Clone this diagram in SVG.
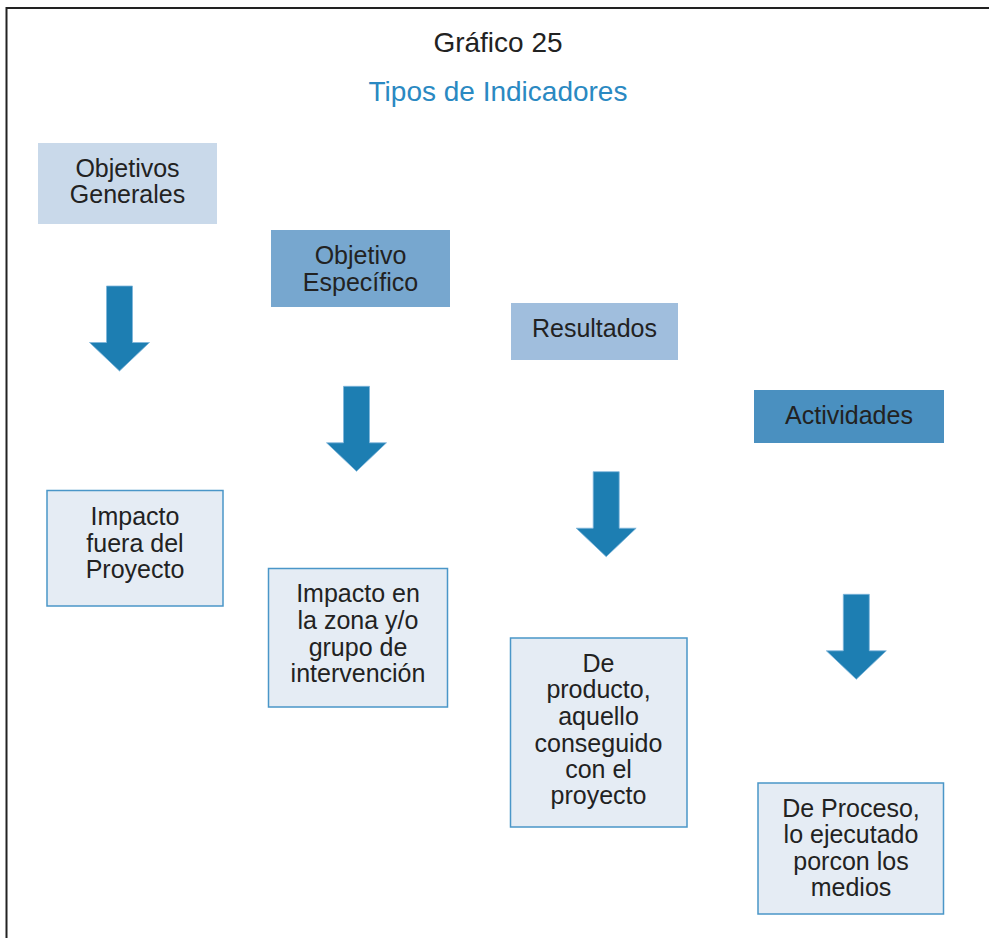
<svg xmlns="http://www.w3.org/2000/svg" xmlns:xlink="http://www.w3.org/1999/xlink" width="989" height="938" viewBox="0 0 989 938">
<style>
.t{font-family:"Liberation Sans",Arial,sans-serif;font-size:25px;fill:#222;text-anchor:middle}
.res{fill:#e5ecf4;stroke:#4a96c8;stroke-width:1.5}
.arr{fill:#1d7eb2;stroke:#7db5da;stroke-width:0.8}
</style>
<defs>
<path id="arrow" class="arr" d="M-13,0 H13 V56.5 H30 L0,85 L-30,56.5 H-13 Z"/>
</defs>
<rect width="989" height="938" fill="#fff"/>
<path d="M6.5,938 V8 H989" fill="none" stroke="#222" stroke-width="2"/>
<g id="title">
<text x="498" y="52" style="font-family:'Liberation Sans',Arial,sans-serif;font-size:28px;fill:#222;text-anchor:middle">Gráfico 25</text>
<text x="498" y="101" style="font-family:'Liberation Sans',Arial,sans-serif;font-size:28px;fill:#2a89c2;text-anchor:middle">Tipos de Indicadores</text>
</g>
<g id="n-objetivos-generales">
<rect x="38" y="143" width="179" height="81" fill="#c9d9ea"/>
<text class="t" x="127.5" y="177">Objetivos</text>
<text class="t" x="127.5" y="203">Generales</text>
</g>
<g id="n-objetivo-especifico">
<rect x="271" y="230" width="179" height="77" fill="#77a7cf"/>
<text class="t" x="360.5" y="264">Objetivo</text>
<text class="t" x="360.5" y="291">Específico</text>
</g>
<g id="n-resultados">
<rect x="511" y="303" width="167" height="57" fill="#a0bedd"/>
<text class="t" x="594.5" y="337">Resultados</text>
</g>
<g id="n-actividades">
<rect x="754" y="390" width="190" height="53" fill="#4a90c0"/>
<text class="t" x="849" y="424">Actividades</text>
</g>
<g id="n-impacto-fuera">
<rect class="res" x="47" y="490.5" width="176" height="115.5"/>
<text class="t" x="135" y="525">Impacto</text>
<text class="t" x="135" y="551.7">fuera del</text>
<text class="t" x="135" y="578.3">Proyecto</text>
</g>
<g id="n-impacto-zona">
<rect class="res" x="268.5" y="568.5" width="179" height="138.5"/>
<text class="t" x="358" y="602.3">Impacto en</text>
<text class="t" x="358" y="628.8">la zona y/o</text>
<text class="t" x="358" y="655.5">grupo de</text>
<text class="t" x="358" y="682">intervención</text>
</g>
<g id="n-producto">
<rect class="res" x="510.5" y="638" width="176.5" height="189"/>
<text class="t" x="598.5" y="671.7">De</text>
<text class="t" x="598.5" y="698.3">producto,</text>
<text class="t" x="598.5" y="725.2">aquello</text>
<text class="t" x="598.5" y="751.7">conseguido</text>
<text class="t" x="598.5" y="778">con el</text>
<text class="t" x="598.5" y="804.3">proyecto</text>
</g>
<g id="n-proceso">
<rect class="res" x="758" y="783" width="185.5" height="131"/>
<text class="t" x="851" y="816.7">De Proceso,</text>
<text class="t" x="851" y="843.3">lo ejecutado</text>
<text class="t" x="851" y="869.5">porcon los</text>
<text class="t" x="851" y="895.7">medios</text>
</g>
<g id="connectors">
<use xlink:href="#arrow" href="#arrow" transform="translate(119.5,286)"/>
<use xlink:href="#arrow" href="#arrow" transform="translate(356.5,386.3)"/>
<use xlink:href="#arrow" href="#arrow" transform="translate(606.2,471.7)"/>
<use xlink:href="#arrow" href="#arrow" transform="translate(856.3,594.3)"/>
</g>
</svg>
